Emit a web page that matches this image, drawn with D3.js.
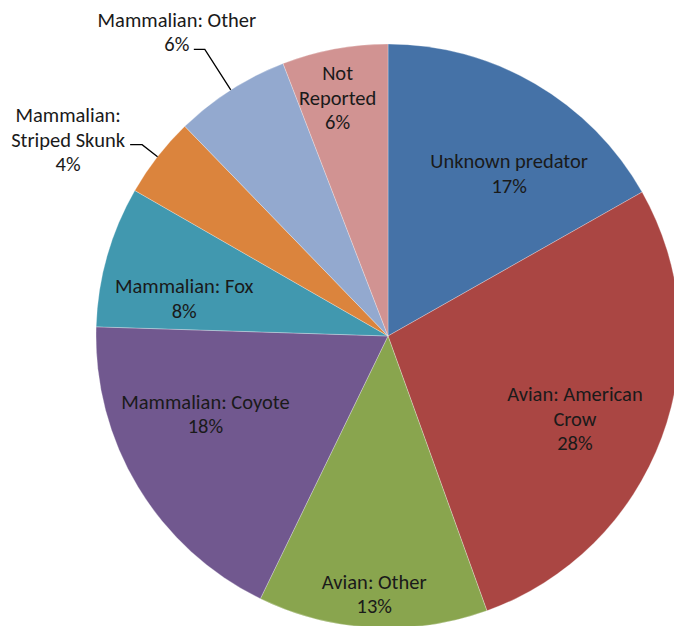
<!DOCTYPE html>
<html>
<head>
<meta charset="utf-8">
<script src="https://cdn.jsdelivr.net/npm/d3@7"></script>
<style>
  html, body { margin: 0; padding: 0; background: #fff; overflow: hidden; }
  svg { display: block; }
  text { font-family: Calibri, Carlito, Lato, sans-serif; font-size: 20.5px; fill: #1a1a1a; }
</style>
</head>
<body>
<svg id="pie" width="674" height="626"></svg>
<script>
// ── Data ───────────────────────────────────────────────────────────────────
const categories = [
  'Unknown predator',
  'Avian: American\nCrow',
  'Avian: Other',
  'Mammalian: Coyote',
  'Mammalian: Fox',
  'Mammalian:\nStriped Skunk',
  'Mammalian: Other',
  'Not\nReported'
];
const values = [16.8, 27.7, 12.7, 18.3, 7.8, 4.45, 6.4, 5.85];
const colors = ['#4572A7', '#AA4643', '#89A54E', '#71588F', '#4198AF', '#DB843D', '#93A9CF', '#D19392'];

// label placement: inside (radius factor + angle nudge in deg) or outside with leader line
const labelLayout = [
  { rf: 0.695, nudge: 6.4 },
  { rf: 0.70, nudge: 3.5 },
  { rf: 0.885, nudge: 0 },
  { rf: 0.68, nudge: 8 },
  { rf: 0.71, nudge: -5.3 },
  { outside: true, elbow: 1.067, hLen: 12, dx: -62, dy: -5 },
  { outside: true, elbow: 1.165, hLen: 11, dx: -17, dy: -17.5 },
  { rf: 0.835, nudge: -1.4 }
];

const CX = 388, CY = 336, R = 292;
const LINE_H = 24.5;

const svg = d3.select('#pie');
const g = svg.append('g').attr('transform', `translate(${CX},${CY})`);

const pie = d3.pie().sort(null).value(d => d.value);
const arc = d3.arc().innerRadius(0).outerRadius(R);

const data = categories.map((c, i) => ({ name: c, value: values[i], color: colors[i], layout: labelLayout[i] }));
const arcs = pie(data);

g.selectAll('path.slice')
  .data(arcs)
  .join('path')
  .attr('class', 'slice')
  .attr('d', arc)
  .attr('fill', d => d.data.color)
  .attr('stroke', '#fff')
  .attr('stroke-opacity', 0.35)
  .attr('stroke-width', 0.8);

function polar(angle, r) {
  return [Math.sin(angle) * r, -Math.cos(angle) * r];
}

function drawBlock(x, y, lines) {
  const t = g.append('text').attr('text-anchor', 'middle');
  const top = y - (lines.length - 1) * LINE_H / 2;
  lines.forEach((ln, k) => {
    t.append('tspan')
      .attr('x', x)
      .attr('y', top + k * LINE_H)
      .attr('dy', '0.35em')
      .text(ln);
  });
}

arcs.forEach(a => {
  const d = a.data;
  const lay = d.layout;
  const mid = (a.startAngle + a.endAngle) / 2;
  const lines = d.name.split('\n').concat([`${Math.round(d.value)}%`]);
  if (lay.outside) {
    const p0 = polar(mid, R);
    const p1 = polar(mid, R * lay.elbow);
    const p2 = [p1[0] - lay.hLen, p1[1]];
    g.append('path')
      .attr('d', d3.line()([p0, p1, p2]))
      .attr('fill', 'none')
      .attr('stroke', '#000')
      .attr('stroke-width', 1.3);
    drawBlock(p2[0] + lay.dx, p2[1] + lay.dy, lines);
  } else {
    const p = polar(mid + lay.nudge * Math.PI / 180, R * lay.rf);
    drawBlock(p[0], p[1], lines);
  }
});
</script>
</body>
</html>
